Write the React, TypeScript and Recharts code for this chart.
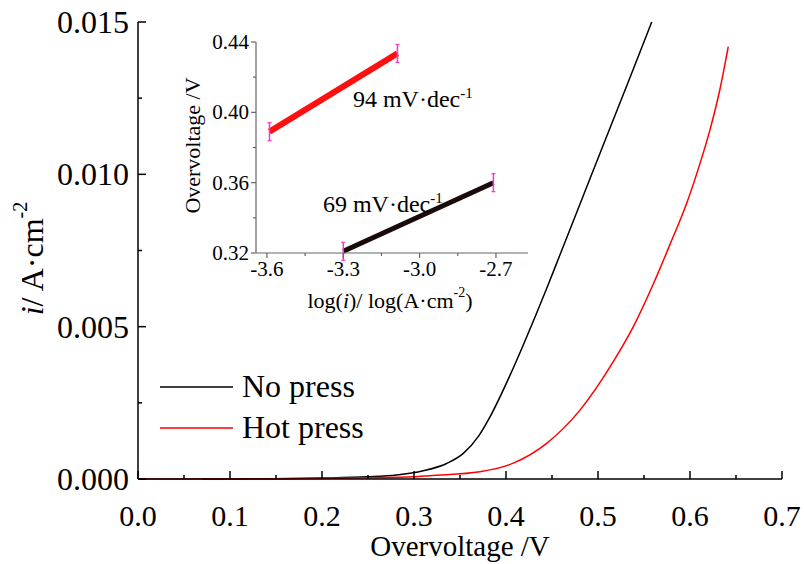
import { LineChart, Line, XAxis, YAxis, Legend, ReferenceDot } from 'recharts';

const FONT = 'Liberation Serif, Times New Roman, Times, serif';

// main plot: current density vs overvoltage
const noPressV = [0.07, 0.15, 0.2, 0.25, 0.281, 0.31, 0.3355, 0.3536, 0.37, 0.3826, 0.4043, 0.4188, 0.4442, 0.4587, 0.484, 0.5083, 0.5348, 0.5584];
const noPressI = [0, 0.00001, 0.00003, 0.00007, 0.00013, 0.00027, 0.00051, 0.00084, 0.0014, 0.00204, 0.0034, 0.0044, 0.00625, 0.00736, 0.0093, 0.01116, 0.01318, 0.015];
const hotPressV = [0, 0.1, 0.2, 0.3, 0.317, 0.3717, 0.408, 0.4442, 0.4804, 0.5166, 0.5384, 0.5601, 0.5783, 0.5964, 0.6109, 0.6217, 0.6326, 0.6416];
const hotPressI = [0, 0.000005, 0.00002, 0.00007, 0.00011, 0.00024, 0.00052, 0.00117, 0.00226, 0.00385, 0.005, 0.0064, 0.0077, 0.00905, 0.01036, 0.01146, 0.0128, 0.01419];
const seriesNames = ['No press', 'Hot press'];

const xMajor = [0, 0.1, 0.2, 0.3, 0.4, 0.5, 0.6, 0.7];
const xMinor = [0.05, 0.15, 0.25, 0.35, 0.45, 0.55, 0.65];
const yMajor = [0, 0.005, 0.01, 0.015];
const yMinor = [0.0025, 0.0075, 0.0125];

// inset: Tafel lines
const tafelHotLogI = [-3.59, -3.087];
const tafelHotEta = [0.389, 0.4335];
const tafelNoLogI = [-3.3, -2.71];
const tafelNoEta = [0.321, 0.36];

const insetXMajor = [-3.6, -3.3, -3.0, -2.7];
const insetXMinor = [-3.45, -3.15, -2.85];
const insetYMajor = [0.32, 0.36, 0.4, 0.44];
const insetYMinor = [0.34, 0.38, 0.42];

const noPress = noPressV.map((v, k) => ({ v, i: noPressI[k] }));
const hotPress = hotPressV.map((v, k) => ({ v, i: hotPressI[k] }));
const tafelHot = tafelHotLogI.map((logI, k) => ({ logI, eta: tafelHotEta[k] }));
const tafelNo = tafelNoLogI.map((logI, k) => ({ logI, eta: tafelNoEta[k] }));

const isIn = (list: number[], v: number) => list.some((t) => Math.abs(t - v) < 1e-9);

function MainXTick({ x, y, payload }: any) {
  const major = isIn(xMajor, payload.value);
  return (
    <g>
      <line x1={x} x2={x} y1={y} y2={y - (major ? 8 : 4)} stroke="#000" strokeWidth={1.5} />
      {major && (
        <text x={x} y={y + 36} textAnchor="middle" dominantBaseline="central" fontFamily={FONT} fontSize={30} fill="#000">
          {payload.value.toFixed(1)}
        </text>
      )}
    </g>
  );
}

function MainYTick({ x, y, payload }: any) {
  const major = isIn(yMajor, payload.value);
  return (
    <g>
      <line x1={x} x2={x + (major ? 8 : 4)} y1={y} y2={y} stroke="#000" strokeWidth={1.5} />
      {major && (
        <text x={x - 9} y={y} textAnchor="end" dominantBaseline="central" fontFamily={FONT} fontSize={32} fill="#000">
          {payload.value.toFixed(3)}
        </text>
      )}
    </g>
  );
}

function InsetXTick({ x, y, payload }: any) {
  const major = isIn(insetXMajor, payload.value);
  return (
    <g>
      <line x1={x} x2={x} y1={y} y2={y + (major ? 5 : 3)} stroke="#666" strokeWidth={1.2} />
      {major && (
        <text x={x} y={y + 16} textAnchor="middle" dominantBaseline="central" fontFamily={FONT} fontSize={21} fill="#000">
          {payload.value.toFixed(1)}
        </text>
      )}
    </g>
  );
}

function InsetYTick({ x, y, payload }: any) {
  const major = isIn(insetYMajor, payload.value);
  return (
    <g>
      <line x1={x} x2={x - (major ? 5 : 3)} y1={y} y2={y} stroke="#666" strokeWidth={1.2} />
      {major && (
        <text x={x - 7} y={y} textAnchor="end" dominantBaseline="central" fontFamily={FONT} fontSize={21} fill="#000">
          {payload.value.toFixed(2)}
        </text>
      )}
    </g>
  );
}

function YTitle({ viewBox }: any) {
  const cx = viewBox.x + 32;
  const cy = viewBox.y + viewBox.height / 2 + 8;
  return (
    <text transform={`translate(${cx},${cy}) rotate(-90)`} textAnchor="middle" dominantBaseline="central" fontFamily={FONT} fontSize={32} fill="#000">
      <tspan fontStyle="italic">i</tspan>
      <tspan>/ A·cm</tspan>
      <tspan dy={-12} fontSize={20}>-2</tspan>
    </text>
  );
}

function XTitle({ viewBox }: any) {
  return (
    <text x={viewBox.x + viewBox.width / 2} y={546} textAnchor="middle" dominantBaseline="central" fontFamily={FONT} fontSize={29} fill="#000">
      Overvoltage /V
    </text>
  );
}

function InsetXTitle({ viewBox }: any) {
  return (
    <text x={viewBox.x + viewBox.width / 2 - 2} y={270} textAnchor="middle" dominantBaseline="central" fontFamily={FONT} fontSize={22} fill="#000">
      <tspan>log(</tspan>
      <tspan fontStyle="italic">i</tspan>
      <tspan>)/ log(A·cm</tspan>
      <tspan dy={-8} fontSize={14}>-2</tspan>
      <tspan dy={8}>)</tspan>
    </text>
  );
}

function InsetYTitle({ viewBox }: any) {
  const cy = viewBox.y + viewBox.height / 2 - 2;
  return (
    <text transform={`translate(22,${cy}) rotate(-90)`} textAnchor="middle" dominantBaseline="central" fontFamily={FONT} fontSize={22} fill="#000">
      Overvoltage /V
    </text>
  );
}

function SlopeText({ viewBox, slope }: any) {
  return (
    <text x={viewBox.x} y={viewBox.y} fontFamily={FONT} fontSize={24} fill="#000">
      <tspan>{slope} mV·dec</tspan>
      <tspan dy={-9} fontSize={15}>-1</tspan>
    </text>
  );
}

function EndMark(props: any) {
  const { cx, cy, index, points } = props;
  if (index !== 0 && index !== (points ? points.length - 1 : 1)) return <g key={`m${index}`} />;
  return (
    <g key={`m${index}`}>
      <line x1={cx} x2={cx} y1={cy - 9} y2={cy + 9} stroke="#ff33cc" strokeWidth={1.5} />
      <line x1={cx - 2} x2={cx + 2} y1={cy - 9} y2={cy - 9} stroke="#ff33cc" strokeWidth={1.2} />
      <line x1={cx - 2} x2={cx + 2} y1={cy + 9} y2={cy + 9} stroke="#ff33cc" strokeWidth={1.2} />
    </g>
  );
}

function LegendBox({ payload }: any) {
  const items = seriesNames
    .map((name) => (payload || []).find((p: any) => p.value === name))
    .filter(Boolean);
  return (
    <div style={{ fontFamily: FONT, fontSize: 32, color: '#000' }}>
      {items.map((p: any) => (
        <div key={p.value} style={{ display: 'flex', alignItems: 'center', height: 41 }}>
          <svg width={82} height={4} style={{ display: 'block' }}>
            <line x1={0} x2={73} y1={2} y2={2} stroke={p.color} strokeWidth={1.5} />
          </svg>
          <span style={{ lineHeight: '41px' }}>{p.value}</span>
        </div>
      ))}
    </div>
  );
}

export default function App() {
  return (
    <div style={{ position: 'absolute', left: 0, top: 0, width: 804, height: 564, background: '#fff', fontFamily: FONT }}>
      <LineChart width={804} height={564} margin={{ top: 22, right: 22, bottom: 0, left: 0 }}>
        <XAxis
          dataKey="v"
          type="number"
          domain={[0, 0.7]}
          ticks={[...xMajor, ...xMinor].sort((a, b) => a - b)}
          interval={0}
          height={85}
          tickSize={0}
          tickMargin={0}
          tick={<MainXTick />}
          stroke="#000"
          strokeWidth={1.5}
          label={<XTitle />}
        />
        <XAxis xAxisId="top" orientation="top" type="number" domain={[0, 0.7]} height={0} tick={false} tickLine={false} stroke="#000" strokeWidth={1.5} />
        <YAxis
          type="number"
          domain={[0, 0.015]}
          ticks={[...yMajor, ...yMinor].sort((a, b) => a - b)}
          interval={0}
          width={138}
          tickSize={0}
          tickMargin={0}
          tick={<MainYTick />}
          stroke="#000"
          strokeWidth={1.5}
          label={<YTitle />}
        />
        <YAxis yAxisId="right" orientation="right" type="number" domain={[0, 0.015]} width={0} tick={false} tickLine={false} stroke="#000" strokeWidth={1.5} />
        <Legend
          layout="vertical"
          align="center"
          verticalAlign="middle"
          content={<LegendBox />}
          wrapperStyle={{ left: 160, top: 366, width: 260 }}
        />
        <Line data={noPress} dataKey="i" name="No press" type="monotone" stroke="#000" strokeWidth={1.5} dot={false} isAnimationActive={false} />
        <Line data={hotPress} dataKey="i" name="Hot press" type="monotone" stroke="#ff0000" strokeWidth={1.5} dot={false} isAnimationActive={false} />
      </LineChart>

      <div style={{ position: 'absolute', left: 170, top: 30 }}>
        <LineChart width={380} height={290} margin={{ top: 12, right: 22, bottom: 0, left: 0 }}>
          <XAxis
            dataKey="logI"
            type="number"
            domain={[-3.643, -2.574]}
            ticks={[...insetXMajor, ...insetXMinor].sort((a, b) => a - b)}
            interval={0}
            height={67}
            tickSize={0}
            tickMargin={0}
            tick={<InsetXTick />}
            stroke="#666"
            strokeWidth={1.2}
            label={<InsetXTitle />}
          />
          <YAxis
            type="number"
            domain={[0.32, 0.44]}
            ticks={[...insetYMajor, ...insetYMinor].sort((a, b) => a - b)}
            interval={0}
            width={86}
            tickSize={0}
            tickMargin={0}
            tick={<InsetYTick />}
            stroke="#666"
            strokeWidth={1.2}
            label={<InsetYTitle />}
          />
          <Line data={tafelHot} dataKey="eta" type="linear" stroke="#ff1010" strokeWidth={6} dot={EndMark} isAnimationActive={false} />
          <Line data={tafelNo} dataKey="eta" type="linear" stroke="#1a0a0a" strokeWidth={5} dot={EndMark} isAnimationActive={false} />
          <ReferenceDot x={-3.262} y={0.403} r={0} fill="none" stroke="none" label={<SlopeText slope={94} />} />
          <ReferenceDot x={-3.38} y={0.3435} r={0} fill="none" stroke="none" label={<SlopeText slope={69} />} />
        </LineChart>
      </div>
    </div>
  );
}
